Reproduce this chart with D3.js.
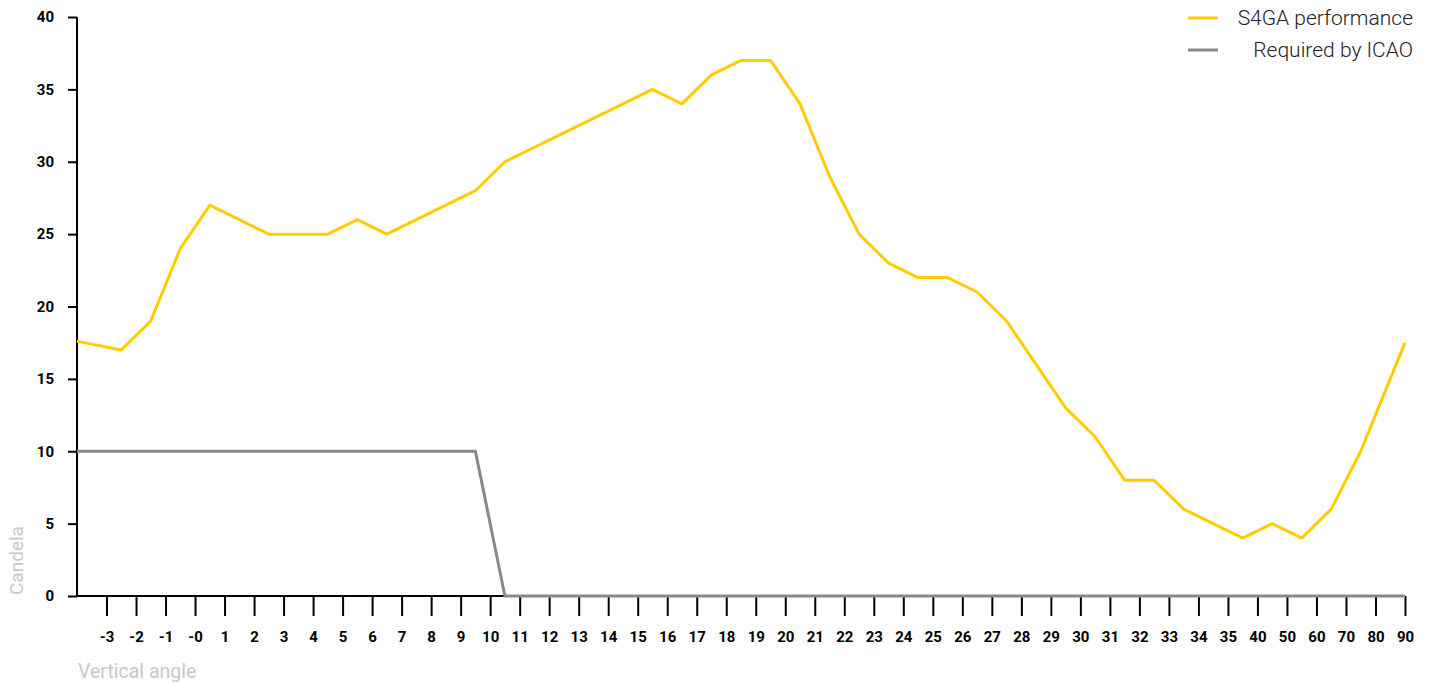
<!DOCTYPE html>
<html>
<head>
<meta charset="utf-8">
<script src="https://cdn.jsdelivr.net/npm/d3@7"></script>
<style>
    body { margin: 0; background: #fff; }
    svg { display: block; font-family: Roboto, "Noto Sans", sans-serif; }
    .axis line, .axis path { stroke: #000; stroke-width: 2px; }
</style>
</head>
<body>
<div id="chart"></div>
<script>

// vertical angle categories (x axis)
const angles = ["-3", "-2", "-1", "-0", "1", "2", "3", "4", "5", "6", "7", "8", "9", "10",
    "11", "12", "13", "14", "15", "16", "17", "18", "19", "20", "21", "22", "23", "24", "25",
    "26", "27", "28", "29", "30", "31", "32", "33", "34", "35", "40", "50", "60", "70", "80", "90"];

// candela values, one per category
const s4ga = [17.4, 17, 19, 24, 27, 26, 25, 25, 25, 26, 25, 26, 27, 28, 30, 31, 32, 33, 34, 35,
    34, 36, 37, 37, 34, 29, 25, 23, 22, 22, 21, 19, 16, 13, 11, 8, 8, 6, 5, 4, 5, 4, 6, 10, 15];
const icao = [10, 10, 10, 10, 10, 10, 10, 10, 10, 10, 10, 10, 10, 10,
    0, 0, 0, 0, 0, 0, 0, 0, 0, 0, 0, 0, 0, 0, 0, 0, 0, 0, 0, 0, 0, 0, 0, 0, 0, 0, 0, 0, 0, 0, 0];

// values where each line meets the left and right edge of the plot
const s4gaEdges = [17.6, 17.5];
const icaoEdges = [10, 0];

const yTicks = [0, 5, 10, 15, 20, 25, 30, 35, 40];

const seriesNames = ["S4GA performance", "Required by ICAO"];
const seriesColors = ["#ffcc00", "#888888"];

// drawing area
const W = 1430, H = 684;
const margin = {top: 17, right: 25, bottom: 88, left: 77};
const width = W - margin.left - margin.right;
const height = H - margin.top - margin.bottom;

const svg = d3.select("#chart").append("svg")
    .attr("width", W)
    .attr("height", H);

const g = svg.append("g")
    .attr("transform", "translate(" + margin.left + "," + margin.top + ")");

// scales
const x = d3.scaleBand()
    .domain(angles)
    .range([0, width])
    .padding(0);

// tick marks sit on the right edge of each band
const xTick = d3.scalePoint()
    .domain(angles)
    .range([x.bandwidth(), width]);

const y = d3.scaleLinear()
    .domain([0, 40])
    .range([height, 0]);

function styleTicks(a) {
    a.selectAll("text")
        .style("font-family", "Roboto, sans-serif")
        .style("font-size", "15px")
        .style("font-weight", "700")
        .style("fill", "#000");
}

// y axis
g.append("g")
    .attr("class", "y-axis axis")
    .call(d3.axisLeft(y).tickValues(yTicks).tickSize(9).tickSizeOuter(0).tickPadding(14))
    .call(a => a.select(".domain").attr("d", "M0," + height + "V0"))
    .call(styleTicks);

// x axis
const xAxisG = g.append("g")
    .attr("class", "x-axis axis")
    .attr("transform", "translate(0," + height + ")")
    .call(d3.axisBottom(xTick).tickSize(20).tickSizeOuter(0).tickPadding(15))
    .call(styleTicks);
xAxisG.select(".domain").remove();
xAxisG.append("line")
    .attr("x1", x.range()[0])
    .attr("x2", x.range()[1])
    .attr("stroke", "#000")
    .attr("stroke-width", 2);

// axis titles
svg.append("text")
    .attr("transform", "translate(23," + (margin.top + height - 1) + ") rotate(-90)")
    .attr("text-anchor", "start")
    .attr("fill", "#c8c8c8")
    .style("font-size", "19px")
    .text("Candela");

svg.append("text")
    .attr("x", margin.left + 1)
    .attr("y", 678)
    .attr("fill", "#c8c8c8")
    .style("font-size", "19.5px")
    .text("Vertical angle");

// lines
function toPoints(values, edges) {
    let pts = [{x: x.range()[0], v: edges[0]}];
    values.forEach((v, i) => {
        pts.push({x: x(angles[i]) + x.bandwidth() / 2, v: v});
    });
    pts.push({x: x.range()[1], v: edges[1]});
    return pts;
}

const line = d3.line()
    .x(d => d.x)
    .y(d => y(d.v));

g.append("path")
    .datum(toPoints(s4ga, s4gaEdges))
    .attr("d", line)
    .attr("fill", "none")
    .attr("stroke", seriesColors[0])
    .attr("stroke-width", 3)
    .attr("stroke-linejoin", "round");

g.append("path")
    .datum(toPoints(icao, icaoEdges))
    .attr("d", line)
    .attr("fill", "none")
    .attr("stroke", seriesColors[1])
    .attr("stroke-width", 3)
    .attr("stroke-linejoin", "round");

// legend
const legend = svg.append("g")
    .attr("class", "legend");

seriesNames.forEach((name, i) => {
    let row = legend.append("g")
        .attr("transform", "translate(0," + (18 + i * 32) + ")");
    row.append("line")
        .attr("x1", 1188)
        .attr("x2", 1218)
        .attr("stroke", seriesColors[i])
        .attr("stroke-width", 3);
    row.append("text")
        .attr("x", 1413)
        .attr("dy", "0.35em")
        .attr("text-anchor", "end")
        .attr("fill", "#222")
        .style("font-size", "21px")
        .style("font-weight", 300)
        .text(name);
});

</script>
</body>
</html>
